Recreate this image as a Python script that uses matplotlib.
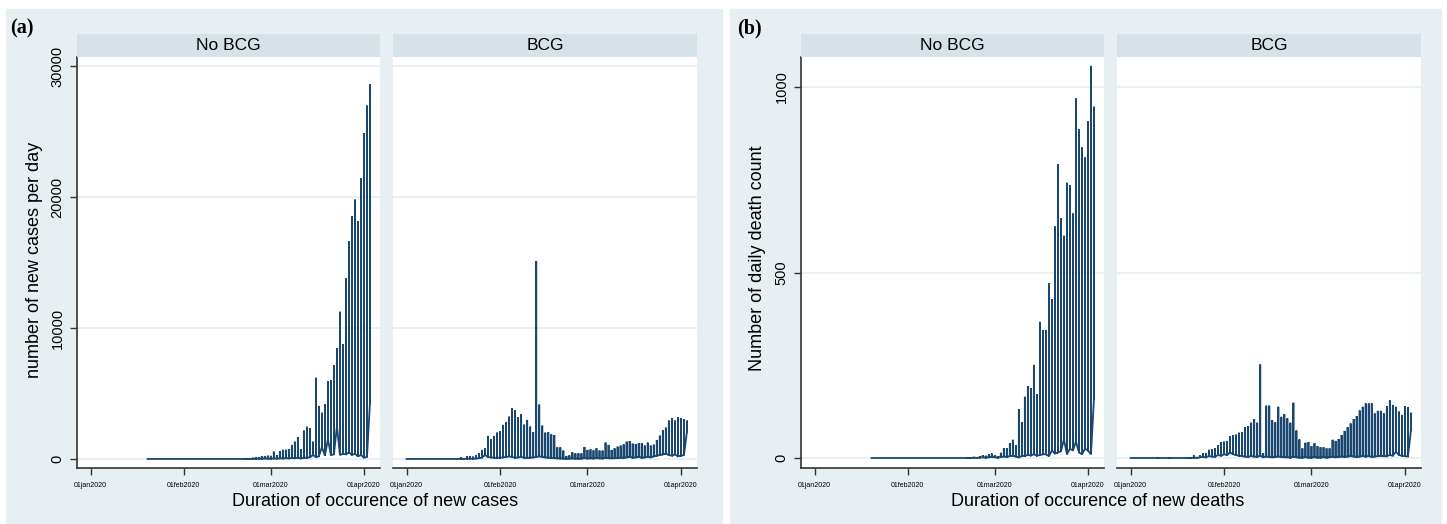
import numpy as np
import matplotlib
matplotlib.use("Agg")
import matplotlib.pyplot as plt

# ---- data ----
facets = ["No BCG", "BCG"]
xtick_dates = ["2020-01-01", "2020-02-01", "2020-03-01", "2020-04-01"]
xtick_labels = ["01jan2020", "01feb2020", "01mar2020", "01apr2020"]

# (a) new cases per day
cases_nobcg_start = "2020-01-20"
cases_nobcg_peak = [0] * 32 + [
    20, 60, 30, 90, 120, 150, 200, 230, 250,
    240, 560, 300, 600, 700, 700, 760, 1070, 1320, 1650, 760, 2160, 2460, 2360, 1320,
    6200, 4050, 3530, 4200, 5950, 6000, 7150, 8470, 11240, 8780, 13800, 16620, 18530,
    19800, 18150, 21430, 24870, 26980, 28630]
cases_nobcg_low = [0] * 32 + [
    0, 10, 0, 20, 10, 30, 20, 40, 30,
    20, 40, 30, 50, 40, 60, 50, 80, 60, 100, 50, 80, 100, 120, 300,
    150, 200, 900, 250, 1500, 300, 350, 2500, 300, 400, 350, 500, 300,
    400, 200, 300, 100, 150, 4300]

cases_bcg_start = "2020-01-01"
cases_bcg_peak = [0] * 18 + [
    150, 50, 200, 230, 180,
    305, 430, 690, 815, 1760, 1500, 1760, 2010,
    2110, 2600, 2825, 3230, 3870, 3715, 3180, 3435, 2620, 2980, 2470, 2035, 15100, 4150,
    2545, 2010, 2035, 1880, 1830, 890, 890, 640, 230, 280, 510, 430, 430, 430, 915,
    690, 740, 660, 815, 640, 640, 1250, 1070, 690, 815, 940, 1020, 1120, 1320, 1370,
    1170, 1145, 1200, 1200, 1020, 1250, 1020, 1095, 1450, 1780, 2210, 2390, 2930, 3130,
    2930, 3200, 3130, 3030, 2930]
cases_bcg_low = [0] * 18 + [
    0, 0, 20, 30, 20,
    40, 60, 100, 300, 150, 120, 100, 80,
    100, 120, 150, 200, 150, 100, 120, 150, 100, 80, 100, 120, 150, 200,
    150, 120, 100, 80, 60, 50, 40, 30, 20, 30, 40, 30, 20, 30, 60,
    40, 50, 40, 60, 50, 40, 80, 60, 50, 60, 80, 100, 90, 120, 150,
    100, 120, 150, 100, 120, 150, 130, 200, 250, 300, 350, 400, 300, 250, 350,
    200, 250, 300, 2080]

# (b) daily deaths
deaths_nobcg_start = "2020-01-20"
deaths_nobcg_peak = [0] * 32 + [
    1, 2, 3, 2, 5, 8, 6, 10, 12,
    8, 5, 14, 26, 26, 40, 49, 35, 132, 96, 165, 194, 188, 251, 172,
    367, 345, 345, 471, 428, 624, 792, 646, 599, 742, 736, 659, 969,
    886, 837, 810, 908, 1057, 947]
deaths_nobcg_low = [0] * 32 + [
    0, 0, 1, 0, 1, 2, 1, 2, 3,
    2, 1, 3, 4, 3, 5, 6, 4, 2, 5, 6, 8, 7, 10, 6,
    8, 10, 10, 5, 20, 12, 15, 18, 50, 10, 25, 20, 45,
    15, 10, 25, 20, 10, 160]

deaths_bcg_start = "2020-01-01"
deaths_bcg_peak = [0] * 9 + [1, 0, 0, 0, 1] + [0] * 5 + [
    2, 1, 8, 3, 8, 13, 13, 22, 24, 26, 34, 42,
    44, 46, 58, 62, 63, 68, 69, 83, 86, 95, 105, 95, 252, 13, 141, 141, 102, 96, 138,
    111, 118, 107, 95, 149, 74, 50, 26, 41, 43,
    32, 40, 32, 29, 29, 26, 26, 49, 46, 51, 62, 73, 83, 93, 105, 113, 128, 138, 147,
    147, 147, 120, 127, 127, 120, 140, 155, 143, 138, 125, 116,
    140, 137, 122]
deaths_bcg_low = [0] * 19 + [
    0, 0, 1, 0, 2, 3, 2, 5, 4, 3, 8, 6,
    10, 8, 15, 10, 8, 6, 5, 4, 3, 5, 4, 3, 6, 2, 4, 3, 2, 3, 4,
    3, 2, 2, 1, 3, 2, 1, 1, 2, 1,
    1, 2, 1, 1, 2, 1, 2, 3, 2, 3, 4, 3, 4, 5, 4, 3, 4, 5, 4,
    5, 3, 4, 5, 6, 5, 5, 8, 6, 17, 8, 6,
    5, 4, 75]

# ---- style ----
BG = "#e8eff2"
STRIP = "#d6e1e8"
GRID = "#e4edf0"
NAVY = "#1a476f"
W, H = 1447, 524


def fx(px):
    return px / W


def fy(py):
    return 1 - py / H


def day_dates(start, n):
    return np.datetime64(start) + np.arange(n)


def draw_facet(fig, left_px, right_px, title, start, peak, low, yticks, ylim, show_y):
    top_px, bot_px, strip_px = 57, 468, 34
    ax = fig.add_axes([fx(left_px), fy(bot_px), fx(right_px - left_px), (bot_px - top_px) / H])
    dates = day_dates(start, len(peak))
    # each day: other countries -> top country -> back down (data sorted by date)
    x = np.repeat(dates, 3)
    y = np.column_stack([low, peak, low]).ravel()
    ax.plot(x, y, color=NAVY, lw=1.3, solid_joinstyle="miter")
    ax.set_facecolor("white")
    ax.set_ylim(*ylim)
    ax.set_xlim(np.datetime64("2020-01-01") - np.timedelta64(108, "h"),
                np.datetime64("2020-04-01") + np.timedelta64(128, "h"))
    ax.set_yticks(yticks)
    ax.yaxis.grid(True, color=GRID, lw=1.2)
    ax.set_axisbelow(True)
    ax.set_xticks([np.datetime64(d) for d in xtick_dates])
    ax.set_xticklabels(xtick_labels, fontsize=5)
    ax.tick_params(axis="x", length=5, width=1, color="#333333", pad=5)
    for s in ["top", "right"]:
        ax.spines[s].set_visible(False)
    ax.spines["bottom"].set_color("#333333")
    ax.spines["bottom"].set_linewidth(1.2)
    if show_y:
        ax.spines["left"].set_color("#333333")
        ax.spines["left"].set_linewidth(1.2)
        ax.set_yticklabels([str(t) for t in yticks], rotation=90, va="center", fontsize=10.5)
        ax.tick_params(axis="y", length=5, width=1, color="#333333", pad=4)
    else:
        ax.spines["left"].set_visible(False)
        ax.tick_params(axis="y", length=0, labelleft=False)
    # header strip
    sax = fig.add_axes([fx(left_px), fy(top_px), fx(right_px - left_px), (top_px - strip_px) / H])
    sax.set_facecolor(STRIP)
    sax.set_xticks([])
    sax.set_yticks([])
    for s in sax.spines.values():
        s.set_visible(False)
    sax.text(0.5, 0.5, title, ha="center", va="center", fontsize=12.5,
             family="Liberation Sans", transform=sax.transAxes)
    return ax


plt.rcParams["font.family"] = ["Liberation Sans", "DejaVu Sans"]
fig = plt.figure(figsize=(W / 100, H / 100), dpi=100)
fig.patch.set_facecolor("white")

# panel backgrounds
fig.patches.append(plt.Rectangle((fx(6), 0), fx(722 - 6), fy(9), transform=fig.transFigure,
                                 color=BG, zorder=-10))
fig.patches.append(plt.Rectangle((fx(730), 0), fx(1441 - 730), fy(9), transform=fig.transFigure,
                                 color=BG, zorder=-10))

# (a)
draw_facet(fig, 77, 380, facets[0], cases_nobcg_start, cases_nobcg_peak, cases_nobcg_low,
           [0, 10000, 20000, 30000], (-690, 30690), True)
draw_facet(fig, 393, 697, facets[1], cases_bcg_start, cases_bcg_peak, cases_bcg_low,
           [0, 10000, 20000, 30000], (-690, 30690), False)
# (b)
draw_facet(fig, 801, 1104, facets[0], deaths_nobcg_start, deaths_nobcg_peak, deaths_nobcg_low,
           [0, 500, 1000], (-27, 1081), True)
draw_facet(fig, 1117, 1421, facets[1], deaths_bcg_start, deaths_bcg_peak, deaths_bcg_low,
           [0, 500, 1000], (-27, 1081), False)

fig.text(fx(10), fy(28), "(a)", fontsize=14.5, fontweight="bold", family="Liberation Serif",
         va="center", ha="left")
fig.text(fx(737), fy(28), "(b)", fontsize=14.5, fontweight="bold", family="Liberation Serif",
         va="center", ha="left")
fig.text(fx(35), fy(260), "number of new cases per day", rotation=90, fontsize=13,
         ha="center", va="center")
fig.text(fx(757), fy(258), "Number of daily death count", rotation=90, fontsize=13,
         ha="center", va="center")
fig.text(fx(375), fy(502), "Duration of occurence of new cases", fontsize=13,
         ha="center", va="center")
fig.text(fx(1098), fy(502), "Duration of occurence of new deaths", fontsize=13,
         ha="center", va="center")

fig.savefig("out.png", dpi=100, facecolor=fig.get_facecolor())
